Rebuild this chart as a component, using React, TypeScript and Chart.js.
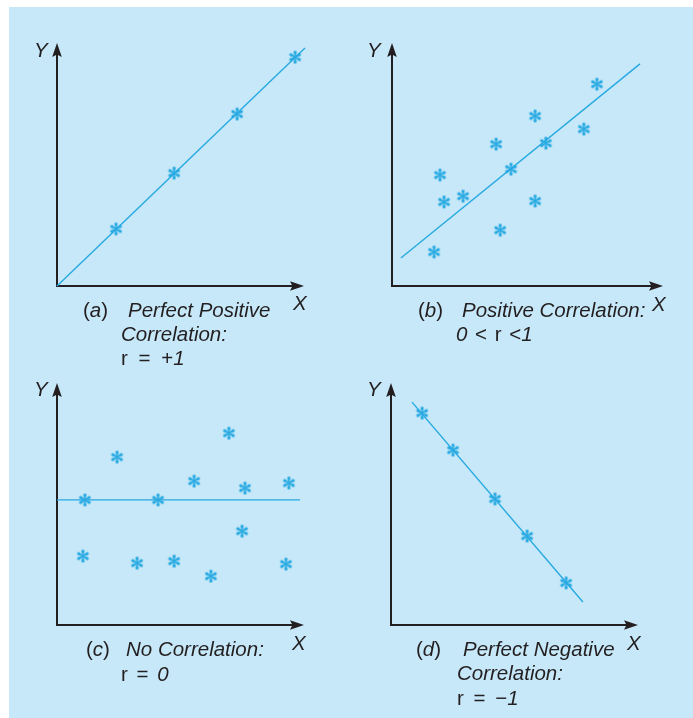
import React, { useEffect, useRef } from "react";
import { Chart, registerables } from "chart.js";
Chart.register(...registerables);

// ---------- data (units: 0 = axis origin, 10 = arrow tip) ----------
// (a) Perfect positive correlation
const aX = [2.39, 4.74, 7.29, 9.64];
const aY = [2.35, 4.65, 7.08, 9.42];
const aLineX = [0, 10.04];
const aLineY = [0, 9.79];

// (b) Positive correlation 0 < r < 1
const bX = [1.55, 1.77, 1.92, 2.62, 3.84, 3.99, 4.39, 5.28, 5.28, 5.68, 7.08, 7.56];
const bY = [1.4, 4.57, 3.46, 3.7, 5.84, 2.3, 4.81, 7.0, 3.5, 5.88, 6.46, 8.31];
const bLineX = [0.33, 9.15];
const bLineY = [1.15, 9.14];

// (c) No correlation r = 0
const cX = [1.13, 2.43, 4.09, 5.55, 6.96, 7.61, 9.39, 1.05, 3.24, 4.74, 6.23, 7.49, 9.27];
const cY = [5.17, 6.94, 5.17, 5.95, 7.93, 5.66, 5.87, 2.85, 2.56, 2.64, 2.02, 3.88, 2.52];
const cLineX = [0, 9.84];
const cLineY = [5.17, 5.17];

// (d) Perfect negative correlation
const dX = [1.26, 2.51, 4.21, 5.51, 7.09];
const dY = [8.76, 7.23, 5.21, 3.68, 1.74];
const dLineX = [0.85, 7.77];
const dLineY = [9.21, 0.95];

const axisLabelX = "X";
const axisLabelY = "Y";

// ---------- styles ----------
const BG = "#c6e8f8";
const BLUE = "#27a9e1";
const INK = "#231f20";
const FONT = '"Liberation Sans", Arial, Helvetica, sans-serif';
const FS = 20.5;
const BASE = 17.35; // baseline offset inside a line box of height FS

type Rect = { left: number; top: number; w: number; h: number };
type Axes = { left: number; right: number; top: number; bottom: number };

function makeAsterisk(color: string): HTMLCanvasElement {
  const c = document.createElement("canvas");
  const s = 15;
  c.width = s;
  c.height = s;
  const ctx = c.getContext("2d")!;
  ctx.fillStyle = color;
  const cx = s / 2,
    cy = s / 2;
  for (let i = 0; i < 6; i++) {
    const ang = -Math.PI / 2 + (i * Math.PI) / 3;
    const dx = Math.cos(ang),
      dy = Math.sin(ang);
    const px = -dy,
      py = dx;
    const R = 5.0,
      w0 = 0.55,
      w1 = 1.45;
    ctx.beginPath();
    ctx.moveTo(cx + px * w0, cy + py * w0);
    ctx.lineTo(cx + dx * R + px * w1, cy + dy * R + py * w1);
    ctx.lineTo(cx + dx * R - px * w1, cy + dy * R - py * w1);
    ctx.lineTo(cx - px * w0, cy - py * w0);
    ctx.closePath();
    ctx.fill();
    ctx.beginPath();
    ctx.arc(cx + dx * R, cy + dy * R, w1 + 0.1, 0, Math.PI * 2);
    ctx.fill();
  }
  ctx.beginPath();
  ctx.arc(cx, cy, 1.0, 0, Math.PI * 2);
  ctx.fill();
  return c;
}

const axesPlugin = {
  id: "arrowAxes",
  beforeDatasetsDraw(chart: any) {
    const { ctx, chartArea } = chart;
    const { left, right, top, bottom } = chartArea;
    ctx.save();
    ctx.strokeStyle = INK;
    ctx.fillStyle = INK;
    ctx.lineWidth = 2;
    ctx.beginPath();
    ctx.moveTo(left, bottom + 1);
    ctx.lineTo(left, top + 10);
    ctx.moveTo(left - 1, bottom);
    ctx.lineTo(right - 10, bottom);
    ctx.stroke();
    // Y arrow head
    ctx.beginPath();
    ctx.moveTo(left, top);
    ctx.lineTo(left - 4.8, top + 14);
    ctx.lineTo(left, top + 11.5);
    ctx.lineTo(left + 4.8, top + 14);
    ctx.closePath();
    ctx.fill();
    // X arrow head
    ctx.beginPath();
    ctx.moveTo(right, bottom);
    ctx.lineTo(right - 14, bottom - 4.8);
    ctx.lineTo(right - 11.5, bottom);
    ctx.lineTo(right - 14, bottom + 4.8);
    ctx.closePath();
    ctx.fill();
    ctx.restore();
  },
};

function Panel(props: {
  rect: Rect;
  axes: Axes;
  xs: number[];
  ys: number[];
  lx: number[];
  ly: number[];
}) {
  const ref = useRef<HTMLCanvasElement>(null);
  const { rect, axes, xs, ys, lx, ly } = props;
  useEffect(() => {
    const marker = makeAsterisk(BLUE);
    const chart = new Chart(ref.current!, {
      type: "scatter",
      data: {
        datasets: [
          {
            data: xs.map((x, i) => ({ x, y: ys[i] })),
            pointStyle: marker as any,
            pointRadius: 7,
            showLine: false,
            backgroundColor: BLUE,
            borderColor: BLUE,
            clip: false as any,
          },
          {
            data: lx.map((x, i) => ({ x, y: ly[i] })),
            showLine: true,
            pointRadius: 0,
            borderColor: BLUE,
            borderWidth: 1.4,
            clip: false as any,
          },
        ],
      },
      options: {
        responsive: false,
        animation: false,
        events: [],
        layout: {
          padding: {
            left: axes.left - rect.left,
            top: axes.top - rect.top,
            right: rect.left + rect.w - axes.right,
            bottom: rect.top + rect.h - axes.bottom,
          },
        },
        scales: {
          x: { type: "linear", min: 0, max: 10, display: false },
          y: { type: "linear", min: 0, max: 10, display: false },
        },
        plugins: { legend: { display: false }, tooltip: { enabled: false } },
      },
      plugins: [axesPlugin],
    });
    return () => chart.destroy();
  }, []);
  return (
    <canvas
      ref={ref}
      width={rect.w}
      height={rect.h}
      style={{
        position: "absolute",
        left: rect.left,
        top: rect.top,
        width: rect.w,
        height: rect.h,
      }}
    />
  );
}

function T(props: { x: number; base: number; ws?: number; children: any }) {
  return (
    <div
      style={{
        position: "absolute",
        left: props.x,
        top: props.base - BASE,
        fontFamily: FONT,
        fontSize: FS,
        lineHeight: `${FS}px`,
        whiteSpace: "pre",
        color: INK,
        wordSpacing: props.ws ?? 0,
      }}
    >
      {props.children}
    </div>
  );
}

const I = (p: { children: any }) => <i style={{ fontStyle: "italic" }}>{p.children}</i>;

export default function App() {
  return (
    <div
      style={{
        position: "absolute",
        left: 0,
        top: 0,
        width: 693,
        height: 718,
        background: "#ffffff",
        overflow: "hidden",
      }}
    >
      <div style={{ position: "absolute", left: 9, top: 7, right: 0, bottom: 0, background: BG }} />

      <Panel rect={{ left: 0, top: 0, w: 346, h: 362 }} axes={{ left: 57, right: 304, top: 43, bottom: 286 }} xs={aX} ys={aY} lx={aLineX} ly={aLineY} />
      <Panel rect={{ left: 346, top: 0, w: 347, h: 362 }} axes={{ left: 392, right: 663, top: 43, bottom: 286 }} xs={bX} ys={bY} lx={bLineX} ly={bLineY} />
      <Panel rect={{ left: 0, top: 362, w: 346, h: 356 }} axes={{ left: 57, right: 304, top: 383, bottom: 625 }} xs={cX} ys={cY} lx={cLineX} ly={cLineY} />
      <Panel rect={{ left: 346, top: 362, w: 347, h: 356 }} axes={{ left: 391, right: 638, top: 383, bottom: 625 }} xs={dX} ys={dY} lx={dLineX} ly={dLineY} />

      {/* axis labels */}
      <T x={34} base={57}><I>{axisLabelY}</I></T>
      <T x={367} base={57}><I>{axisLabelY}</I></T>
      <T x={34} base={396}><I>{axisLabelY}</I></T>
      <T x={367} base={396}><I>{axisLabelY}</I></T>
      <T x={293} base={310}><I>{axisLabelX}</I></T>
      <T x={652} base={311}><I>{axisLabelX}</I></T>
      <T x={292} base={650}><I>{axisLabelX}</I></T>
      <T x={627} base={650}><I>{axisLabelX}</I></T>

      {/* (a) */}
      <T x={83} base={317}>(<I>a</I>)</T>
      <T x={128} base={317}><I>Perfect Positive</I></T>
      <T x={121} base={341}><I>Correlation:</I></T>
      <T x={121} base={365} ws={5}>r = +<I>1</I></T>

      {/* (b) */}
      <T x={418} base={317}>(<I>b</I>)</T>
      <T x={462} base={317}><I>Positive Correlation:</I></T>
      <T x={456} base={341} ws={2}><I>0</I> &lt; r &lt;<I>1</I></T>

      {/* (c) */}
      <T x={86} base={656}>(<I>c</I>)</T>
      <T x={126} base={656}><I>No Correlation:</I></T>
      <T x={121} base={681} ws={3}>r = <I>0</I></T>

      {/* (d) */}
      <T x={416} base={656}>(<I>d</I>)</T>
      <T x={463} base={656}><I>Perfect Negative</I></T>
      <T x={457} base={680}><I>Correlation:</I></T>
      <T x={457} base={705} ws={4}>r = −<I>1</I></T>
    </div>
  );
}
